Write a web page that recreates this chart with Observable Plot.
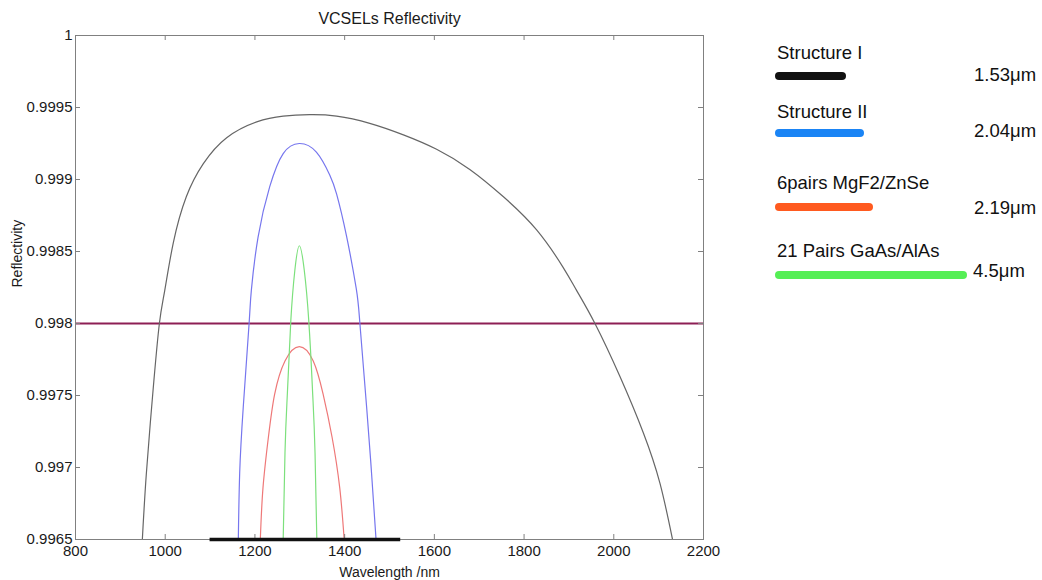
<!DOCTYPE html>
<html>
<head>
<meta charset="utf-8">
<script src="https://cdn.jsdelivr.net/npm/d3@7"></script>
<script src="https://cdn.jsdelivr.net/npm/@observablehq/plot@0.6"></script>
<style>
  body { margin: 0; background: #fff; font-family: "Liberation Sans", Arial, sans-serif; }
  #wrap { position: relative; width: 1042px; height: 580px; overflow: hidden; }
  #wrap svg { position: absolute; left: 0; top: 0; }
  .lg { position: absolute; white-space: nowrap; font-size: 18.5px; color: #111; line-height: 1; }
  .lgline { position: absolute; border-radius: 4px; }
</style>
</head>
<body>
<div id="wrap"></div>
<script>
// ---------- data ----------
const chartTitle = "VCSELs Reflectivity";
const xLabel = "Wavelength /nm";
const yLabel = "Reflectivity";
const xTicks = [800, 1000, 1200, 1400, 1600, 1800, 2000, 2200];
const yTicks = [0.9965, 0.997, 0.9975, 0.998, 0.9985, 0.999, 0.9995, 1];
const thresholdR = 0.998;
const baseBarRange = [1100, 1525];

// [wavelength nm, reflectivity]
const curveGray = [
  [949, 0.9965], [958, 0.99696], [973, 0.99754], [987, 0.998], [999, 0.99823],
  [1018, 0.99856], [1047, 0.99888], [1085, 0.99911], [1137, 0.99929], [1204, 0.9994],
  [1263, 0.99944], [1322, 0.99945], [1382, 0.99944], [1456, 0.99939], [1531, 0.99931],
  [1605, 0.99921], [1679, 0.99907], [1754, 0.99888], [1828, 0.99865], [1887, 0.99839],
  [1917, 0.99823], [1958, 0.998], [2014, 0.99763], [2066, 0.99724], [2103, 0.99689],
  [2131, 0.9965]
];
const curveBlue = [
  [1163, 0.9965], [1166, 0.99696], [1174, 0.99742], [1187, 0.998], [1192, 0.99823],
  [1207, 0.9986], [1233, 0.99895], [1263, 0.99918], [1299, 0.99925], [1337, 0.99919],
  [1367, 0.99903], [1382, 0.9989], [1404, 0.99861], [1426, 0.99824], [1434, 0.998],
  [1449, 0.99742], [1460, 0.99696], [1470, 0.9965]
];
const curveGreen = [
  [1263, 0.9965], [1267, 0.9971], [1273, 0.99756], [1280, 0.99802], [1289, 0.99837],
  [1299, 0.99854], [1310, 0.99837], [1320, 0.99802], [1328, 0.99756], [1334, 0.9971],
  [1338, 0.9965]
];
const curveRed = [
  [1212, 0.9965], [1218, 0.99686], [1230, 0.99721], [1244, 0.99751], [1267, 0.99774],
  [1299, 0.99784], [1330, 0.99774], [1352, 0.99751], [1372, 0.99721], [1389, 0.99686],
  [1399, 0.9965]
];

const legendNames = ["Structure I", "Structure II", "6pairs MgF2/ZnSe", "21 Pairs GaAs/AlAs"];
const legendValues = ["1.53\u03bcm", "2.04\u03bcm", "2.19\u03bcm", "4.5\u03bcm"];

// ---------- styles / layout ----------
const curveColors = { gray: "#666666", blue: "#7676ee", green: "#7ce07c", red: "#ee7878" };
const legendColors = ["#111111", "#1a84f5", "#ff5a1f", "#55ef55"];
const legendNameTop = [44, 103, 174, 242];
const legendLineTop = [72, 129, 203, 271];
const legendLineWidth = [71, 89, 98, 192];
const legendValueTop = [66, 122, 199, 262];
const legendValueLeft = [974, 974, 974, 973];

const W = 1042, H = 580;
const mL = 75, mR = 339, mT = 35, mB = 41;
const pw = W - mL - mR, ph = H - mT - mB;
const axisColor = "#808080";

const lines = [
  {data: curveGray, color: curveColors.gray, curve: "natural"},
  {data: curveBlue, color: curveColors.blue, curve: "natural"},
  {data: curveRed, color: curveColors.red, curve: "natural"},
  {data: curveGreen, color: curveColors.green, curve: "monotone-x"}
];

const plot = Plot.plot({
  width: W, height: H,
  marginLeft: mL, marginRight: mR, marginTop: mT, marginBottom: mB,
  x: {type: "linear", domain: [800, 2200]},
  y: {type: "linear", domain: [0.9965, 1]},
  style: {fontFamily: "'Liberation Sans', Arial, sans-serif", fontSize: "15px", color: "#1a1a1a", background: "#fff", overflow: "visible"},
  marks: [
    Plot.ruleY([thresholdR], {stroke: "#8d1f55", strokeWidth: 2}),
    ...lines.map(l => Plot.line(l.data, {x: d => d[0], y: d => d[1], stroke: l.color, strokeWidth: 1.2, curve: l.curve, clip: true})),
    Plot.frame({stroke: axisColor}),
    Plot.tickX(xTicks, {x: d => d, insetTop: ph - 5, stroke: axisColor}),
    Plot.tickX(xTicks, {x: d => d, insetBottom: ph - 5, stroke: axisColor}),
    Plot.tickY(yTicks, {y: d => d, insetRight: pw - 5, stroke: axisColor}),
    Plot.tickY(yTicks, {y: d => d, insetLeft: pw - 5, stroke: axisColor}),
    Plot.ruleY([0.9965], {x1: baseBarRange[0], x2: baseBarRange[1], stroke: "#111", strokeWidth: 3.5}),
    Plot.axisX(xTicks, {anchor: "bottom", tickSize: 0, tickPadding: 6, label: null, tickFormat: d => String(d)}),
    Plot.axisY(yTicks, {anchor: "left", tickSize: 0, tickPadding: 3, label: null, tickFormat: d => String(+d.toFixed(4))}),
    Plot.text([chartTitle], {frameAnchor: "top", dy: -23, fontSize: 16}),
    Plot.text([xLabel], {frameAnchor: "bottom", dy: 37, fontSize: 14}),
    Plot.text([yLabel], {frameAnchor: "left", dx: -58, rotate: -90, fontSize: 14})
  ]
});

const wrap = document.getElementById("wrap");
wrap.appendChild(plot);

legendNames.forEach((name, i) => {
  const t = document.createElement("div");
  t.className = "lg";
  t.style.left = "777px";
  t.style.top = legendNameTop[i] + "px";
  t.textContent = name;
  wrap.appendChild(t);

  const ln = document.createElement("div");
  ln.className = "lgline";
  ln.style.left = "775px";
  ln.style.top = legendLineTop[i] + "px";
  ln.style.width = legendLineWidth[i] + "px";
  ln.style.height = "8px";
  ln.style.background = legendColors[i];
  wrap.appendChild(ln);

  const v = document.createElement("div");
  v.className = "lg";
  v.style.left = legendValueLeft[i] + "px";
  v.style.top = legendValueTop[i] + "px";
  v.textContent = legendValues[i];
  wrap.appendChild(v);
});
</script>
</body>
</html>
